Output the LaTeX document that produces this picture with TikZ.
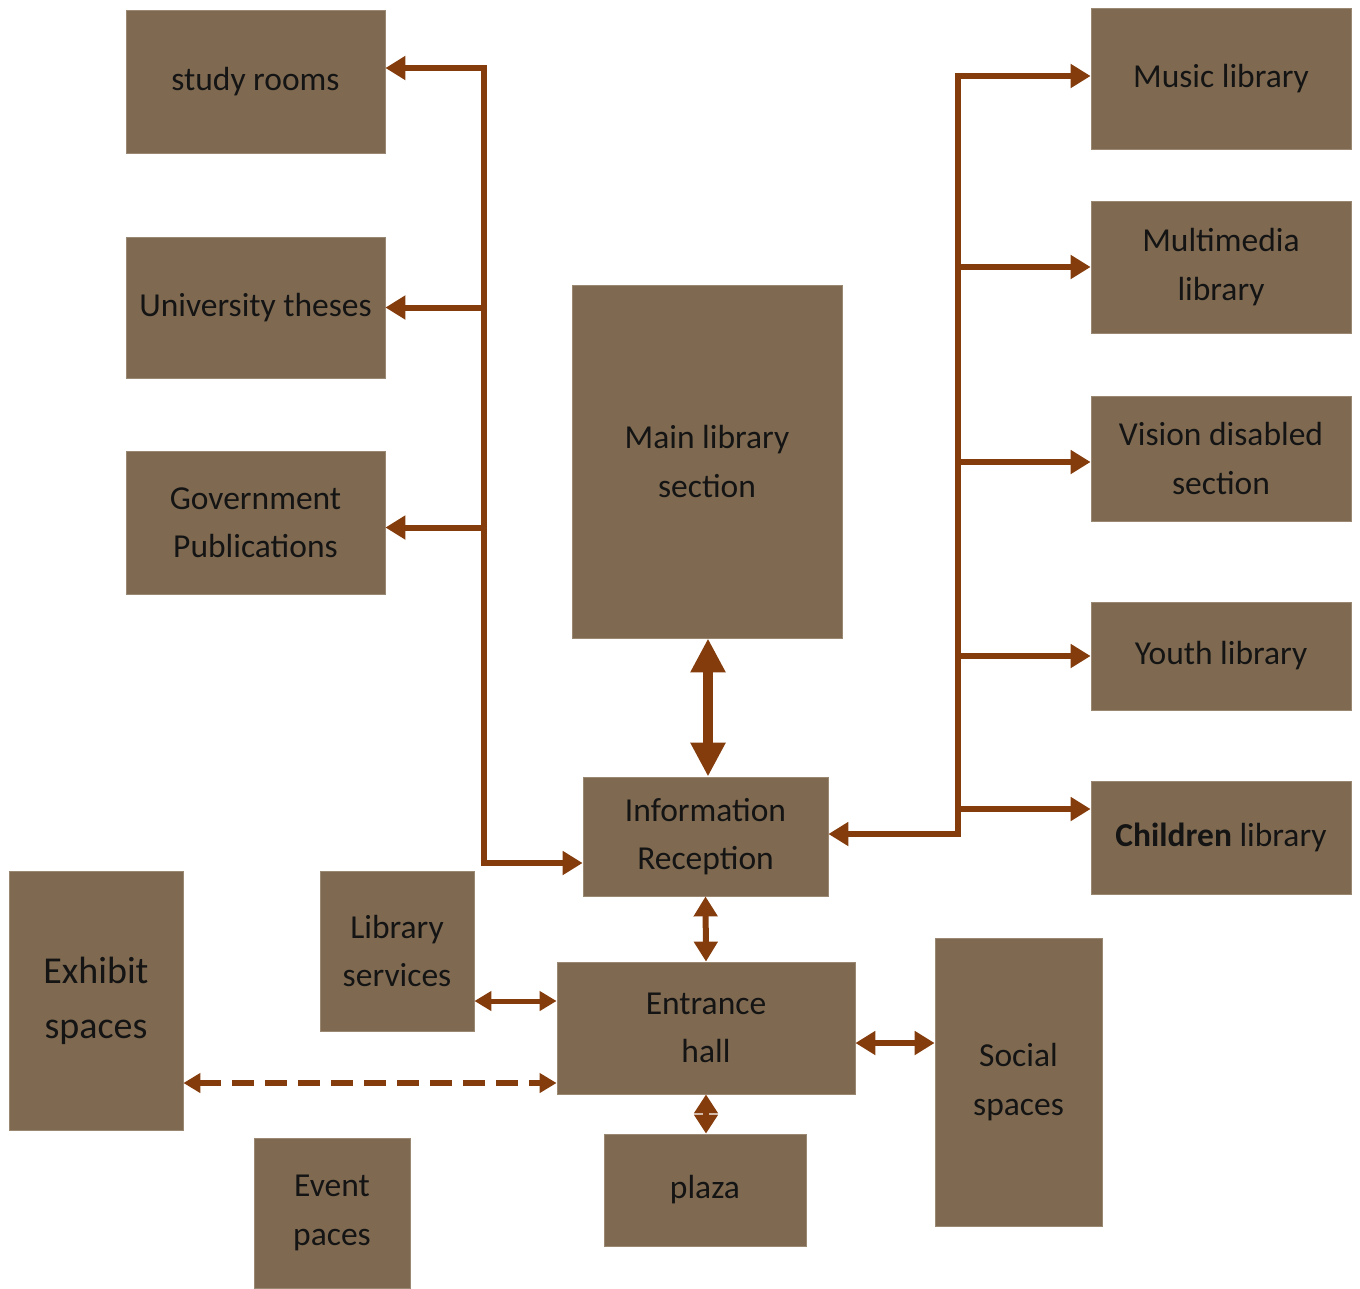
\documentclass[tikz,border=0pt]{standalone}
\usepackage{fontspec}
\setmainfont{Carlito}
\usetikzlibrary{arrows.meta}
\definecolor{boxfill}{HTML}{7F6A51}
\definecolor{boxline}{HTML}{9A8872}
\definecolor{linkc}{HTML}{843C0C}
\definecolor{txt}{HTML}{141414}
\tikzset{
  box/.style={fill=boxfill, draw=boxline, line width=0.8pt, inner sep=0pt,
    align=center, text=txt, font=\fontsize{33.5}{48.5}\selectfont},
  link/.style={draw=linkc, line width=6pt, line join=miter,
    >={Triangle[length=20pt,width=23pt]}},
  thinlink/.style={draw=linkc, line width=5pt,
    >={Triangle[length=17pt,width=19pt]}},
  biglink/.style={draw=linkc, line width=10pt,
    >={Triangle[length=34pt,width=33pt]}},
}
\newcommand{\boxat}[5]{%
  \node[box, minimum width=#3, minimum height=#4] (#1) at #2 {#5};}
\begin{document}
\begin{tikzpicture}[x=1pt, y=-1pt]
\useasboundingbox (0,0) rectangle (1360,1288);

% left column
\boxat{study}{(255.5,81.5)}{259pt}{143pt}{study rooms}
\boxat{theses}{(255.5,307.5)}{259pt}{141pt}{University theses}
\boxat{gov}{(255.5,522.5)}{259pt}{143pt}{Government\\Publications}

% centre column
\boxat{main}{(707,461.5)}{270pt}{353pt}{Main library\\section}
\boxat{info}{(705.5,836.5)}{245pt}{119pt}{Information\\Reception}
\boxat{entr}{(706,1028)}{298pt}{132pt}{Entrance\\hall}
\boxat{plaza}{(705,1190)}{202pt}{112pt}{plaza}

% right column
\boxat{music}{(1221,78.5)}{260pt}{141pt}{Music library}
\boxat{multi}{(1221,267)}{260pt}{132pt}{Multimedia\\library}
\boxat{vision}{(1221,458.5)}{260pt}{125pt}{Vision disabled\\section}
\boxat{youth}{(1221,656)}{260pt}{108pt}{Youth library}
\boxat{children}{(1221,837.5)}{260pt}{113pt}{\textbf{Children} library}

% lower spaces
\boxat{libserv}{(397,951)}{154pt}{160pt}{Library\\services}
\boxat{social}{(1018.5,1082)}{167pt}{288pt}{Social\\spaces}
\boxat{event}{(332,1213)}{156pt}{150pt}{Event\\paces}
\node[box, minimum width=174pt, minimum height=259pt,
  font=\fontsize{38}{55}\selectfont] (exhibit) at (96,1000.5) {Exhibit\\spaces};

% left distribution trunk
\coordinate (ltop) at (484,68);
\coordinate (lbot) at (484,863);
\draw[link,<->] (ltop -| study.east) -- (ltop) -- (lbot) -- (lbot -| info.west);
\draw[link,->] (ltop |- theses.east) -- (theses.east);
\draw[link,->] ([yshift=-5pt]gov.east -| ltop) -- ([yshift=-5pt]gov.east);

% right distribution trunk
\coordinate (rtop) at (958,76);
\coordinate (rbot) at (958,834);
\draw[link,<->] (rtop -| music.west) -- (rtop) -- (rbot) -- (rbot -| info.east);
\draw[link,->] (rtop |- multi.west) -- (multi.west);
\draw[link,->] ([yshift=-3.5pt]vision.west -| rtop) -- ([yshift=-3.5pt]vision.west);
\draw[link,->] (rtop |- youth.west) -- (youth.west);
\draw[link,->] ([yshift=28.5pt]children.west -| rtop) -- ([yshift=28.5pt]children.west);

% vertical links along the centre
\draw[biglink,<->] ([xshift=1pt]main.south) -- ([xshift=1pt]main.south |- info.north);
\draw[link,<->] (info.south) -- (entr.north);
\draw[link,>={Triangle[length=19pt,width=23pt]},<->] (entr.south) -- (entr.south |- plaza.north);

% horizontal links around the entrance hall
\draw[thinlink,<->] ([yshift=-50pt]libserv.east) -- ([yshift=-50pt]libserv.east -| entr.west);
\draw[link,<->] ([yshift=-15pt]entr.east) -- ([yshift=-15pt]entr.east -| social.west);
\draw[thinlink,line width=5.5pt,dash pattern=on 22pt off 11pt,<->]
  ([yshift=-82.5pt]exhibit.east) -- ([yshift=-82.5pt]exhibit.east -| entr.west);
\end{tikzpicture}
\end{document}
